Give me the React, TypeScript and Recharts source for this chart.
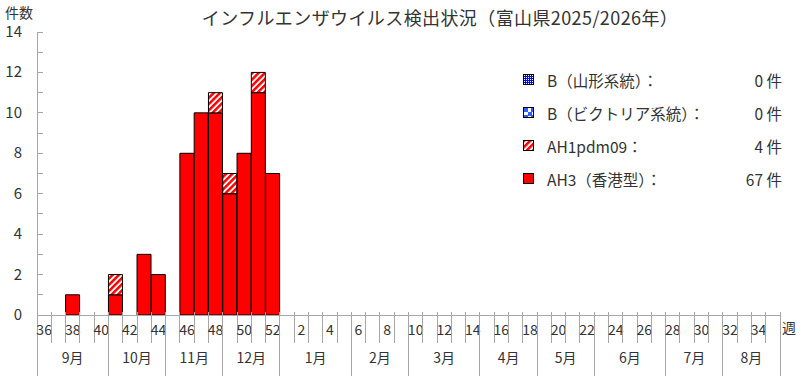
import React from 'react';
import { BarChart, Bar, XAxis, YAxis, Legend } from 'recharts';

// ---- data ----
const weeks = [
  36, 37, 38, 39, 40, 41, 42, 43, 44, 45, 46, 47, 48, 49, 50, 51, 52,
  1, 2, 3, 4, 5, 6, 7, 8, 9, 10, 11, 12, 13, 14, 15, 16, 17, 18, 19, 20,
  21, 22, 23, 24, 25, 26, 27, 28, 29, 30, 31, 32, 33, 34, 35,
];
const ah3 = [
  0, 0, 1, 0, 0, 1, 0, 3, 2, 0, 8, 10, 10, 6, 8, 11, 7,
  0, 0, 0, 0, 0, 0, 0, 0, 0, 0, 0, 0, 0, 0, 0, 0, 0, 0, 0, 0,
  0, 0, 0, 0, 0, 0, 0, 0, 0, 0, 0, 0, 0, 0, 0,
];
const ah1pdm09 = [
  0, 0, 0, 0, 0, 1, 0, 0, 0, 0, 0, 0, 1, 1, 0, 1, 0,
  0, 0, 0, 0, 0, 0, 0, 0, 0, 0, 0, 0, 0, 0, 0, 0, 0, 0, 0, 0,
  0, 0, 0, 0, 0, 0, 0, 0, 0, 0, 0, 0, 0, 0, 0,
];
const bVictoria = [
  0, 0, 0, 0, 0, 0, 0, 0, 0, 0, 0, 0, 0, 0, 0, 0, 0,
  0, 0, 0, 0, 0, 0, 0, 0, 0, 0, 0, 0, 0, 0, 0, 0, 0, 0, 0, 0,
  0, 0, 0, 0, 0, 0, 0, 0, 0, 0, 0, 0, 0, 0, 0,
];
const bYamagata = [
  0, 0, 0, 0, 0, 0, 0, 0, 0, 0, 0, 0, 0, 0, 0, 0, 0,
  0, 0, 0, 0, 0, 0, 0, 0, 0, 0, 0, 0, 0, 0, 0, 0, 0, 0, 0, 0,
  0, 0, 0, 0, 0, 0, 0, 0, 0, 0, 0, 0, 0, 0, 0,
];
const yTicks = [0, 1, 2, 3, 4, 5, 6, 7, 8, 9, 10, 11, 12, 13, 14];
const monthLabels = ['9月', '10月', '11月', '12月', '1月', '2月', '3月', '4月', '5月', '6月', '7月', '8月'];
const monthStartWeeks = [36, 41, 45, 49, 1, 6, 10, 15, 19, 23, 28, 32];

const title = 'インフルエンザウイルス検出状況（富山県2025/2026年）';

const data = weeks.map((w, i) => ({
  week: w,
  ah3: ah3[i],
  ah1: ah1pdm09[i],
  bVic: bVictoria[i],
  bYam: bYamagata[i],
}));

const sum = (a: number[]) => a.reduce((s, v) => s + v, 0);

const legendItems = [
  { name: 'B（山形系統）：', fill: 'url(#patYam)', total: sum(bYamagata) },
  { name: 'B（ビクトリア系統）：', fill: 'url(#patVic)', total: sum(bVictoria) },
  { name: 'AH1pdm09：', fill: 'url(#patAh1)', total: sum(ah1pdm09) },
  { name: 'AH3（香港型）：', fill: '#ff0000', total: sum(ah3) },
];

// ---- layout ----
const W = 800;
const H = 376;
const Y_W = 37;
const M_R = 20;
const M_T = 32;
const X_H = 61;
const AXIS_Y = H - X_H;
const BAND = (W - Y_W - M_R) / weeks.length;
const FONT = '"Noto Sans CJK JP", "Noto Sans", sans-serif';
const GRAY = '#a6a6a6';
const TEXT = '#333333';

const XTick = (props: any) => {
  const { x, payload, index } = props;
  const wk = payload.value as number;
  const left = x - BAND / 2;
  const mi = monthStartWeeks.indexOf(wk);
  const els: React.ReactNode[] = [];
  els.push(
    <line key="t" x1={left} x2={left} y1={AXIS_Y - 3} y2={mi >= 0 ? H : AXIS_Y + 28}
      stroke={GRAY} strokeWidth={1} shapeRendering="crispEdges" />
  );
  if (index === weeks.length - 1) {
    const right = x + BAND / 2;
    els.push(
      <line key="r" x1={right} x2={right} y1={AXIS_Y - 3} y2={H}
        stroke={GRAY} strokeWidth={1} shapeRendering="crispEdges" />
    );
  }
  if (wk % 2 === 0) {
    els.push(
      <text key="l" x={x} y={AXIS_Y + 20} textAnchor="middle" fontSize={14}
        fontFamily={FONT} fill={TEXT}>{wk}</text>
    );
  }
  if (mi >= 0) {
    const startIdx = weeks.indexOf(wk);
    const nextStart = mi + 1 < monthStartWeeks.length ? weeks.indexOf(monthStartWeeks[mi + 1]) : weeks.length;
    const n = nextStart - startIdx;
    els.push(
      <text key="m" x={left + (n * BAND) / 2} y={AXIS_Y + 48} textAnchor="middle" fontSize={14}
        fontFamily={FONT} fill={TEXT}>{monthLabels[mi]}</text>
    );
  }
  return <g>{els}</g>;
};

const YTick = (props: any) => {
  const { y, payload } = props;
  const v = payload.value as number;
  return (
    <g>
      <line x1={Y_W} x2={Y_W + 6} y1={y} y2={y} stroke={GRAY} strokeWidth={1} shapeRendering="crispEdges" />
      {v % 2 === 0 && (
        <text x={22} y={y + 5} textAnchor="end" fontSize={15} fontFamily={FONT} fill={TEXT}>{v}</text>
      )}
    </g>
  );
};

const LegendContent = () => (
  <div style={{ fontFamily: FONT, fontSize: 15.5, color: TEXT }}>
    {legendItems.map((it) => (
      <div key={it.name} style={{ position: 'relative', height: 33, lineHeight: '33px' }}>
        <svg width={12} height={12} style={{ position: 'absolute', left: 0, top: 10 }}>
          <rect x={0.5} y={0.5} width={10} height={10} fill={it.fill} stroke="#000" strokeWidth={1} />
        </svg>
        <span style={{ position: 'absolute', left: 24, top: 0, whiteSpace: 'nowrap' }}>{it.name}</span>
        <span style={{ position: 'absolute', right: 0, top: 0, whiteSpace: 'nowrap' }}>{it.total} 件</span>
      </div>
    ))}
  </div>
);

export default function App() {
  return (
    <div style={{ position: 'absolute', left: 0, top: 0, width: W, height: H, background: '#fff' }}>
      <svg width={0} height={0} style={{ position: 'absolute' }}>
        <defs>
          <pattern id="patAh1" width={4.4} height={4.4} patternUnits="userSpaceOnUse" patternTransform="rotate(45)">
            <rect x={0} y={0} width={4.4} height={4.4} fill="#fff" />
            <rect x={0} y={0} width={2.5} height={4.4} fill="#ff0000" />
          </pattern>
          <pattern id="patYam" width={2} height={2} patternUnits="userSpaceOnUse">
            <rect x={0} y={0} width={2} height={2} fill="#0000ff" />
            <rect x={1} y={1} width={1} height={1} fill="#ffffff" />
          </pattern>
          <pattern id="patVic" width={8} height={8} patternUnits="userSpaceOnUse">
            <rect x={0} y={0} width={8} height={8} fill="#2f5fff" />
            <rect x={5} y={1} width={4} height={4} fill="#fff" />
            <rect x={1} y={5} width={4} height={4} fill="#fff" />
          </pattern>
        </defs>
      </svg>
      <div style={{ position: 'absolute', left: 140, top: 6, width: 600, textAlign: 'center', fontFamily: FONT, fontSize: 18, letterSpacing: 0.4, lineHeight: '22px', color: TEXT, whiteSpace: 'nowrap' }}>
        {title}
      </div>
      <div style={{ position: 'absolute', left: 5, top: 3, fontFamily: FONT, fontSize: 14, lineHeight: '18px', color: TEXT }}>件数</div>
      <div style={{ position: 'absolute', left: 782, top: 318, fontFamily: FONT, fontSize: 14, lineHeight: '18px', color: TEXT }}>週</div>
      <BarChart
        width={W}
        height={H}
        data={data}
        margin={{ top: M_T, right: M_R, bottom: 0, left: 0 }}
        barCategoryGap={0}
        barGap={0}
      >
        <XAxis
          dataKey="week"
          height={X_H}
          interval={0}
          tickLine={false}
          axisLine={{ stroke: GRAY, strokeWidth: 1, shapeRendering: 'crispEdges' } as any}
          tick={<XTick />}
        />
        <YAxis
          width={Y_W}
          domain={[0, 14]}
          ticks={yTicks}
          interval={0}
          tickLine={false}
          axisLine={{ stroke: GRAY, strokeWidth: 1, shapeRendering: 'crispEdges' } as any}
          tick={<YTick />}
        />
        <Legend
          layout="vertical"
          align="center"
          verticalAlign="middle"
          content={<LegendContent />}
          wrapperStyle={{ left: 523, top: 64, width: 259, height: 132 }}
        />
        <Bar dataKey="ah3" stackId="s" fill="#ff0000" stroke="#000" strokeWidth={1} isAnimationActive={false} />
        <Bar dataKey="ah1" stackId="s" fill="url(#patAh1)" stroke="#000" strokeWidth={1} isAnimationActive={false} />
        <Bar dataKey="bVic" stackId="s" fill="url(#patVic)" stroke="#000" strokeWidth={1} isAnimationActive={false} />
        <Bar dataKey="bYam" stackId="s" fill="url(#patYam)" stroke="#000" strokeWidth={1} isAnimationActive={false} />
      </BarChart>
    </div>
  );
}
